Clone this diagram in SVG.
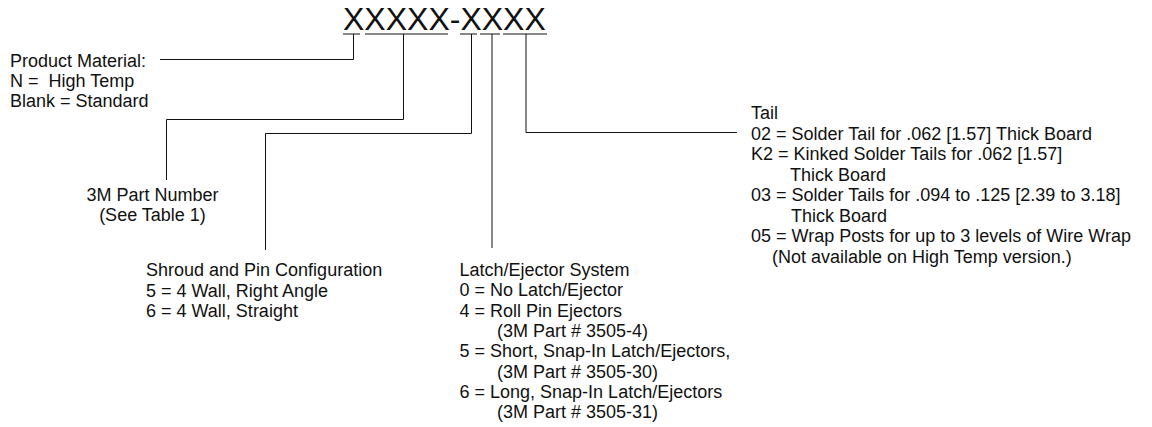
<svg xmlns="http://www.w3.org/2000/svg" width="1152" height="427" viewBox="0 0 1152 427">
<style>
  text { font-family: "Liberation Sans", Arial, Helvetica, sans-serif; font-size: 18px; fill: #111; white-space: pre; }
  .title { font-size: 32px; }
  .ln { stroke: #111; stroke-width: 1; fill: none; }
</style>
<rect width="1152" height="427" fill="#fff"/>
<g id="code">
  <text class="title" x="343" y="30">XXXXX-XXXX</text>
</g>
<g id="connectors">
  <path class="ln" d="M343 34H360 M365 34H448 M460 34H477 M480 34H500 M503 34H547"/>
  <path class="ln" d="M353.5 34V59.5H160"/>
  <path class="ln" d="M403.5 34V119.5H166.5V180"/>
  <path class="ln" d="M471.5 34V133.5H265.5V250"/>
  <path class="ln" d="M492 34V248"/>
  <path class="ln" d="M526 34V132.5H737"/>
</g>
<g id="product-material">
  <text x="10" y="67">Product Material:</text>
  <text x="10" y="87">N =  High Temp</text>
  <text x="10" y="107">Blank = Standard</text>
</g>
<g id="part-number">
  <text x="152.5" y="201" text-anchor="middle">3M Part Number</text>
  <text x="152.5" y="221" text-anchor="middle">(See Table 1)</text>
</g>
<g id="shroud">
  <text x="146" y="276">Shroud and Pin Configuration</text>
  <text x="146" y="296.5">5 = 4 Wall, Right Angle</text>
  <text x="146" y="317">6 = 4 Wall, Straight</text>
</g>
<g id="latch">
  <text x="459.5" y="276">Latch/Ejector System</text>
  <text x="459.5" y="296.3">0 = No Latch/Ejector</text>
  <text x="459.5" y="316.6">4 = Roll Pin Ejectors</text>
  <text x="497" y="336.9">(3M Part # 3505-4)</text>
  <text x="459.5" y="357.2">5 = Short, Snap-In Latch/Ejectors,</text>
  <text x="497" y="377.5">(3M Part # 3505-30)</text>
  <text x="459.5" y="397.8">6 = Long, Snap-In Latch/Ejectors</text>
  <text x="497" y="418.1">(3M Part # 3505-31)</text>
</g>
<g id="tail">
  <text x="751" y="119">Tail</text>
  <text x="751" y="139.5">02 = Solder Tail for .062 [1.57] Thick Board</text>
  <text x="751" y="160">K2 = Kinked Solder Tails for .062 [1.57]</text>
  <text x="790" y="180.5">Thick Board</text>
  <text x="751" y="201">03 = Solder Tails for .094 to .125 [2.39 to 3.18]</text>
  <text x="791" y="221.5">Thick Board</text>
  <text x="751" y="242">05 = Wrap Posts for up to 3 levels of Wire Wrap</text>
  <text x="772" y="262.5">(Not available on High Temp version.)</text>
</g>
</svg>
